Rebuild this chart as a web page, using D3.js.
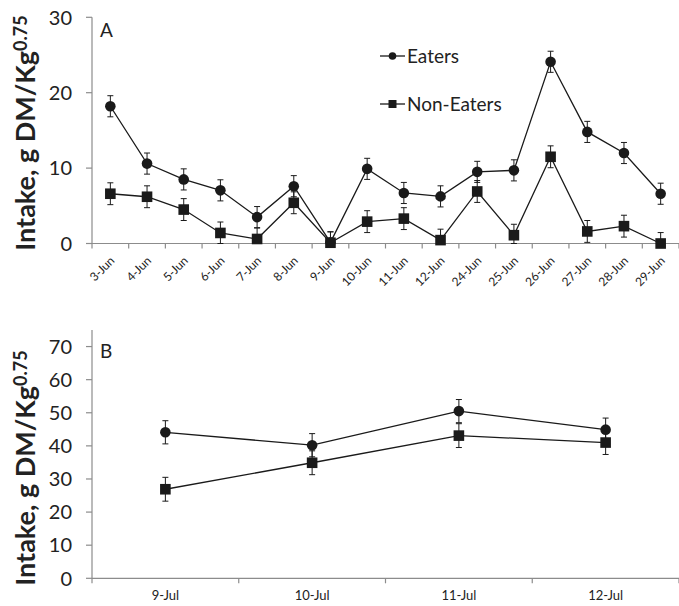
<!DOCTYPE html>
<html>
<head>
<meta charset="utf-8">
<script src="https://cdn.jsdelivr.net/npm/d3@7"></script>
<style>
  body { margin: 0; background: #fff; }
  svg { display: block; }
  text { font-family: Lato, "Open Sans", sans-serif; fill: #222; }
</style>
</head>
<body>
<svg id="chart" width="679" height="606"></svg>
<script>
// ---- Panel A data ----
const datesA = ["3-Jun","4-Jun","5-Jun","6-Jun","7-Jun","8-Jun","9-Jun","10-Jun","11-Jun","12-Jun","24-Jun","25-Jun","26-Jun","27-Jun","28-Jun","29-Jun"];
const eatersA    = [18.2, 10.6, 8.5, 7.05, 3.5, 7.6, 0.15, 9.9, 6.7, 6.25, 9.5, 9.7, 24.1, 14.8, 12.0, 6.6];
const eatersAErr = [1.4, 1.4, 1.4, 1.4, 1.4, 1.4, 1.4, 1.4, 1.4, 1.4, 1.4, 1.4, 1.4, 1.4, 1.4, 1.4];
const nonEatersA    = [6.6, 6.2, 4.5, 1.4, 0.6, 5.4, 0.1, 2.9, 3.3, 0.45, 6.9, 1.1, 11.5, 1.6, 2.3, 0.0];
const nonEatersAErr = [1.45, 1.45, 1.45, 1.45, 1.45, 1.45, 1.45, 1.45, 1.45, 1.45, 1.45, 1.45, 1.45, 1.45, 1.45, 1.45];
const ticksA = [0, 10, 20, 30];

// ---- Panel B data ----
const datesB = ["9-Jul","10-Jul","11-Jul","12-Jul"];
const eatersB    = [44.1, 40.2, 50.5, 44.9];
const eatersBErr = [3.5, 3.5, 3.5, 3.5];
const nonEatersB    = [26.9, 34.9, 43.1, 41.0];
const nonEatersBErr = [3.6, 3.6, 3.6, 3.6];
const ticksB = [0, 10, 20, 30, 40, 50, 60, 70];

const seriesNames = ["Eaters", "Non-Eaters"];

const svg = d3.select("#chart");
const axisColor = "#8c8c8c";
const ink = "#1a1a1a";

function panel(opts) {
  const g = svg.append("g");
  const x = d3.scaleBand().domain(opts.cats).range([opts.x0, opts.x1]);
  const y = d3.scaleLinear().domain([0, opts.ymax]).range([opts.y0, opts.y1]);

  // y axis line
  g.append("line").attr("x1", opts.x0).attr("x2", opts.x0)
    .attr("y1", y(0)).attr("y2", y(opts.ymax))
    .attr("stroke", axisColor).attr("stroke-width", 1.2);
  // y ticks
  g.selectAll(".yt").data(opts.yticks).join("line")
    .attr("x1", opts.x0 - 6).attr("x2", opts.x0)
    .attr("y1", d => y(d)).attr("y2", d => y(d))
    .attr("stroke", axisColor).attr("stroke-width", 1.2);
  g.selectAll(".yl").data(opts.yticks).join("text")
    .attr("x", opts.x0 - 20).attr("y", d => y(d))
    .attr("dy", "0.36em").attr("text-anchor", "end")
    .attr("font-size", 20).text(d => d);

  // x axis line
  g.append("line").attr("x1", opts.x0).attr("x2", opts.x1)
    .attr("y1", y(0)).attr("y2", y(0))
    .attr("stroke", axisColor).attr("stroke-width", 1.2);
  // x ticks at band boundaries
  const bounds = opts.cats.map(c => x(c)).concat([opts.x1]);
  g.selectAll(".xt").data(bounds).join("line")
    .attr("x1", d => d).attr("x2", d => d)
    .attr("y1", y(0)).attr("y2", y(0) + 5)
    .attr("stroke", axisColor).attr("stroke-width", 1.2);

  const cx = c => x(c) + x.bandwidth() / 2;
  if (opts.rotate) {
    g.selectAll(".xl").data(opts.cats).join("text")
      .attr("transform", d => `translate(${cx(d) + 5},${y(0) + 18}) rotate(-45)`)
      .attr("text-anchor", "end").attr("font-size", 12).text(d => d);
  } else {
    g.selectAll(".xl").data(opts.cats).join("text")
      .attr("x", d => cx(d)).attr("y", y(0) + 22)
      .attr("text-anchor", "middle").attr("font-size", 13).text(d => d);
  }

  // panel letter
  g.append("text").attr("x", opts.x0 + 8).attr("y", y(opts.ymax) + opts.letterDy)
    .attr("font-size", 19).text(opts.letter);

  // y title
  const t = g.append("text")
    .attr("transform", `translate(35,${opts.titleY}) rotate(-90)`)
    .attr("text-anchor", "middle").attr("font-size", 27).attr("font-weight", "bold");
  t.append("tspan").text("Intake, g DM/Kg");
  t.append("tspan").attr("dy", "-0.45em").attr("font-size", 18).text("0.75");

  const series = [
    {name: seriesNames[0], vals: opts.s1, err: opts.e1, shape: "circle"},
    {name: seriesNames[1], vals: opts.s2, err: opts.e2, shape: "square"}
  ];
  const line = d3.line().x(d => cx(d.c)).y(d => y(d.v));
  series.forEach(s => {
    const pts = opts.cats.map((c, i) => ({c, v: s.vals[i], e: s.err[i]}));
    g.append("path").datum(pts).attr("d", line)
      .attr("fill", "none").attr("stroke", ink).attr("stroke-width", 1.3);
    // error bars
    const eb = g.append("g").attr("stroke", ink).attr("stroke-width", 1);
    pts.forEach(p => {
      const lo = Math.max(0, p.v - p.e), hi = p.v + p.e;
      eb.append("line").attr("x1", cx(p.c)).attr("x2", cx(p.c)).attr("y1", y(lo)).attr("y2", y(hi));
      eb.append("line").attr("x1", cx(p.c) - 3).attr("x2", cx(p.c) + 3).attr("y1", y(lo)).attr("y2", y(lo));
      eb.append("line").attr("x1", cx(p.c) - 3).attr("x2", cx(p.c) + 3).attr("y1", y(hi)).attr("y2", y(hi));
    });
    if (s.shape === "circle") {
      g.selectAll(null).data(pts).join("circle")
        .attr("cx", d => cx(d.c)).attr("cy", d => y(d.v)).attr("r", 5.3).attr("fill", ink);
    } else {
      g.selectAll(null).data(pts).join("rect")
        .attr("x", d => cx(d.c) - 5.3).attr("y", d => y(d.v) - 5.3)
        .attr("width", 10.6).attr("height", 10.6).attr("fill", ink);
    }
  });
  return {x, y};
}

panel({cats: datesA, x0: 92, x1: 679, y0: 243.5, y1: 17.3, ymax: 30, yticks: ticksA,
  s1: eatersA, e1: eatersAErr, s2: nonEatersA, e2: nonEatersAErr,
  rotate: true, letter: "A", letterDy: 20, titleY: 133});

panel({cats: datesB, x0: 92, x1: 679, y0: 578.3, y1: 330, ymax: 75, yticks: ticksB,
  s1: eatersB, e1: eatersBErr, s2: nonEatersB, e2: nonEatersBErr,
  rotate: false, letter: "B", letterDy: 28, titleY: 468});

// legend
const legend = svg.append("g");
const legY = [56, 104];
seriesNames.forEach((name, i) => {
  legend.append("line").attr("x1", 380).attr("x2", 405).attr("y1", legY[i]).attr("y2", legY[i])
    .attr("stroke", ink).attr("stroke-width", 1.3);
  if (i === 0) legend.append("circle").attr("cx", 392.5).attr("cy", legY[i]).attr("r", 3.8).attr("fill", ink);
  else legend.append("rect").attr("x", 388.5).attr("y", legY[i] - 4).attr("width", 8).attr("height", 8).attr("fill", ink);
  legend.append("text").attr("x", 407).attr("y", legY[i]).attr("dy", "0.36em")
    .attr("font-size", 19).text(name);
});
</script>
</body>
</html>
